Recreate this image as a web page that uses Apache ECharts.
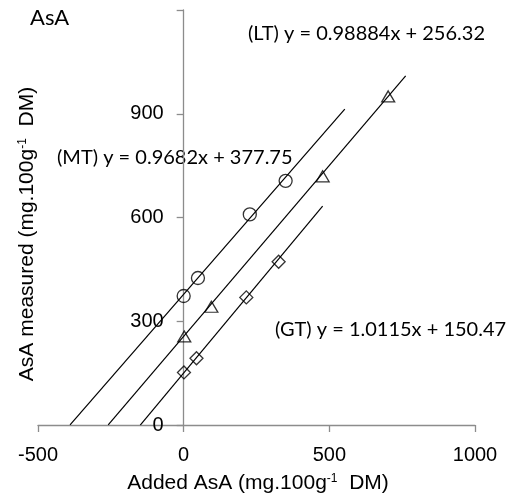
<!DOCTYPE html>
<html>
<head>
<meta charset="UTF-8">
<title>AsA</title>
<style>
  html, body { margin: 0; padding: 0; background: #fff; }
  #chart { width: 515px; height: 503px; }
</style>
<script src="https://cdn.jsdelivr.net/npm/echarts@6/dist/echarts.min.js"></script>
</head>
<body>
<div id="chart"></div>
<script>
// measured points (added AsA, AsA measured)
var mtPoints = [[0, 373], [49, 425], [227, 609], [350, 706]];
var ltPoints = [[2, 256], [95, 342], [477, 719], [702, 950]];
var gtPoints = [[1, 152], [44, 193], [215, 369], [326, 472]];

// trendlines: slope, intercept, drawn x range
var mtFit = { a: 0.9682, b: 377.75, from: -390, to: 553 };
var ltFit = { a: 0.98884, b: 256.32, from: -259, to: 762 };
var gtFit = { a: 1.0115, b: 150.47, from: -149, to: 477 };

var xTicks = [-500, 0, 500, 1000];
var yTicks = [0, 300, 600, 900];

function fitLine(f) {
    return [[f.from, f.a * f.from + f.b], [f.to, f.a * f.to + f.b]];
}

var axisGray = '#8c8c8c';
var tickFont = 'Liberation Sans';
var eqFont = 'Lato';

// grid box in px; y axis sits at x = 0
var gridLeft = 38, gridRight = 40;
var plotW = 515 - gridLeft - gridRight;
var yAxisShift = plotW * (0 - (-500)) / (1000 - (-500));

var chart = echarts.init(document.getElementById('chart'), null, { renderer: 'canvas' });

function lineSeries(f) {
    return {
        type: 'line',
        data: fitLine(f),
        showSymbol: false,
        silent: true,
        z: 2,
        lineStyle: { color: '#000', width: 1.2 }
    };
}

function pointSeries(data, symbol, size) {
    return {
        type: 'scatter',
        data: data,
        symbol: symbol,
        symbolSize: size,
        z: 3,
        itemStyle: { color: 'rgba(0,0,0,0)', borderColor: '#000', borderWidth: 1.3 }
    };
}

var option = {
    animation: false,
    grid: { left: gridLeft, right: gridRight, top: 10, bottom: 78, containLabel: false, outerBoundsMode: 'none' },
    xAxis: {
        type: 'value',
        min: -500,
        max: 1000,
        interval: 500,
        splitLine: { show: false },
        axisLine: { onZero: false, lineStyle: { color: axisGray, width: 1.3 } },
        axisTick: { show: true, length: 7, lineStyle: { color: axisGray, width: 1.3 } },
        axisLabel: {
            margin: 20,
            color: '#000',
            fontFamily: tickFont,
            fontSize: 20,
            formatter: function (v) { return xTicks.indexOf(v) >= 0 ? String(v) : ''; }
        }
    },
    yAxis: {
        type: 'value',
        min: 0,
        max: 1200,
        interval: 300,
        offset: -yAxisShift,
        splitLine: { show: false },
        axisLine: { onZero: false, lineStyle: { color: axisGray, width: 1.3 } },
        axisTick: { show: true, length: 7, lineStyle: { color: axisGray, width: 1.3 } },
        axisLabel: {
            margin: 20,
            color: '#000',
            fontFamily: tickFont,
            fontSize: 20,
            formatter: function (v) { return yTicks.indexOf(v) >= 0 ? String(v) : ''; }
        }
    },
    series: [
        lineSeries(mtFit),
        lineSeries(ltFit),
        lineSeries(gtFit),
        pointSeries(mtPoints, 'circle', 13),
        pointSeries(ltPoints, 'triangle', [13, 11]),
        pointSeries(gtPoints, 'diamond', [13, 13])
    ],
    graphic: [
        {
            type: 'text', x: 30, y: 18,
            style: { text: 'AsA', font: '22px ' + eqFont, fill: '#000', verticalAlign: 'middle' }
        },
        {
            type: 'text', x: 248, y: 34,
            style: { text: '(LT) y = 0.98884x + 256.32', font: '20px ' + eqFont, fill: '#000', verticalAlign: 'middle' }
        },
        {
            type: 'text', x: 57, y: 158,
            style: { text: '(MT) y = 0.9682x + 377.75', font: '20px ' + eqFont, fill: '#000', verticalAlign: 'middle' }
        },
        {
            type: 'text', x: 275, y: 330,
            style: { text: '(GT) y = 1.0115x + 150.47', font: '20px ' + eqFont, fill: '#000', verticalAlign: 'middle' }
        },
        {
            type: 'text', x: 258, y: 483,
            style: {
                text: '{t|Added AsA (mg.100g}{s|-1}{t|  DM)}',
                align: 'center', verticalAlign: 'middle',
                rich: {
                    t: { fontFamily: tickFont, fontSize: 21, color: '#000' },
                    s: { fontFamily: tickFont, fontSize: 12, verticalAlign: 'top', color: '#000' }
                }
            }
        },
        {
            type: 'text', x: 27, y: 234, rotation: Math.PI / 2,
            style: {
                text: '{t|AsA measured (mg.100g}{s|-1}{t|  DM)}',
                align: 'center', verticalAlign: 'middle',
                rich: {
                    t: { fontFamily: tickFont, fontSize: 21, color: '#000' },
                    s: { fontFamily: tickFont, fontSize: 12, verticalAlign: 'top', color: '#000' }
                }
            }
        }
    ]
};

chart.setOption(option);
</script>
</body>
</html>
